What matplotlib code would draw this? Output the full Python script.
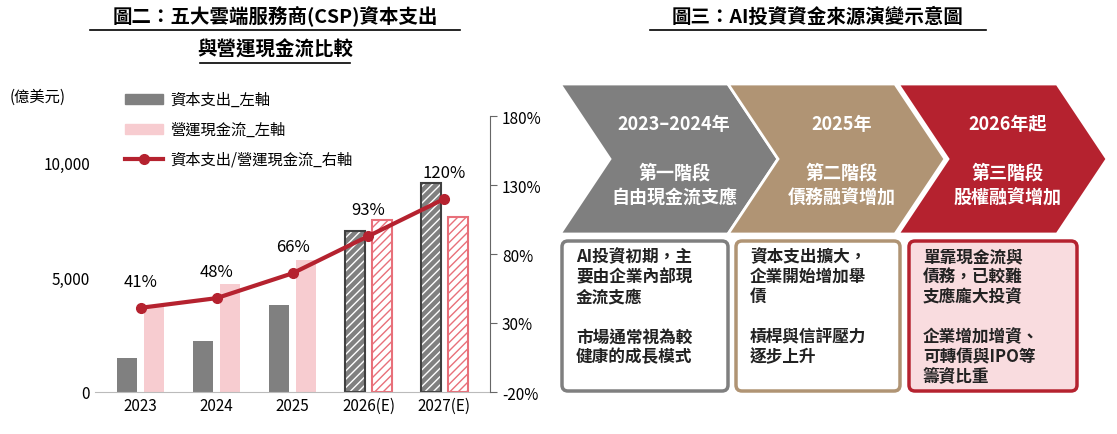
import matplotlib
matplotlib.use("Agg")
import matplotlib.pyplot as plt
from matplotlib.patches import Polygon, FancyBboxPatch
import numpy as np

plt.rcParams['font.family'] = ['Noto Sans CJK TC', 'DejaVu Sans']

years = ['2023', '2024', '2025', '2026(E)', '2027(E)']
capex = [1480, 2200, 3780, 7000, 9100]
ocf = [3800, 4700, 5740, 7480, 7600]
ratio = [41, 48, 66, 93, 120]
forecast = [False, False, False, True, True]

W, H = 1117, 435
fig = plt.figure(figsize=(W/100, H/100), dpi=100)

# ---- left chart
ax = fig.add_axes([95/W, 1-393/H, (490-95)/W, (393-117)/H])
x = np.arange(len(years))
bw = 0.26
for i in range(len(years)):
    if forecast[i]:
        ax.bar(x[i]-0.18, capex[i], bw, color='#808080', edgecolor='white', hatch='////', lw=0)
        ax.bar(x[i]-0.18, capex[i], bw, fill=False, edgecolor='#404040', lw=1.5)
        ax.bar(x[i]+0.18, ocf[i], bw, color='white', edgecolor='#e8707a', hatch='////', lw=1.5)
    else:
        ax.bar(x[i]-0.18, capex[i], bw, color='#808080')
        ax.bar(x[i]+0.18, ocf[i], bw, color='#f7ccd0')
ax.set_ylim(0, 12000)
ax.set_yticks([0, 5000, 10000])
ax.set_yticklabels(['0', '5,000', '10,000'], fontsize=11)
ax.set_xticks(x)
ax.set_xticklabels(years, fontsize=11)
ax.set_xlim(-0.6, 4.6)
for s in ['top', 'right', 'left']:
    ax.spines[s].set_visible(False)
ax.spines['bottom'].set_color('#bbbbbb')
ax.tick_params(length=0)
ax2 = ax.twinx()
ax2.plot(x, ratio, color='#b5222f', lw=3, marker='o', ms=7)
ax2.set_ylim(-20, 180)
ax2.set_yticks([-20, 30, 80, 130, 180])
ax2.set_yticklabels(['-20%', '30%', '80%', '130%', '180%'], fontsize=11)
for s in ['top', 'left', 'bottom']:
    ax2.spines[s].set_visible(False)
ax2.spines['right'].set_color('#666666')
ax2.tick_params(axis='y', length=5, color='#666666')
for i, r in enumerate(ratio):
    ax2.annotate(f'{r}%', (x[i], r), xytext=(0, 16), textcoords='offset points', ha='center', fontsize=12)

ov = fig.add_axes([0, 0, 1, 1], facecolor='none')
ov.set_xlim(0, W); ov.set_ylim(H, 0); ov.axis('off')
ov.text(10, 97, '(億美元)', fontsize=11, va='center')
ov.add_patch(plt.Rectangle((125, 95), 38, 10, color='#808080'))
ov.text(170, 100, '資本支出_左軸', fontsize=11, va='center')
ov.add_patch(plt.Rectangle((125, 125), 38, 10, color='#f7ccd0'))
ov.text(170, 130, '營運現金流_左軸', fontsize=11, va='center')
ov.plot([125, 163], [160, 160], color='#b5222f', lw=3)
ov.plot([144], [160], 'o', color='#b5222f', ms=7)
ov.text(170, 160, '資本支出/營運現金流_右軸', fontsize=11, va='center')

ov.text(275, 17, '圖二：五大雲端服務商(CSP)資本支出', fontsize=14, weight='bold', ha='center', va='center')
ov.plot([90, 460], [31, 31], color='black', lw=1.2)
ov.text(275, 50, '與營運現金流比較', fontsize=14, weight='bold', ha='center', va='center')
ov.plot([200, 350], [64, 64], color='black', lw=1.2)
ov.text(818, 17, '圖三：AI投資資金來源演變示意圖', fontsize=14, weight='bold', ha='center', va='center')
ov.plot([650, 986], [31, 31], color='black', lw=1.2)

chev = [(560, 778, '#7f7f7f', '2023–2024年', '第一階段\n自由現金流支應'),
        (728, 945, '#b09474', '2025年', '第二階段\n債務融資增加'),
        (898, 1107, '#b5222f', '2026年起', '第三階段\n股權融資增加')]
top, bot, tip = 85, 235, 50
for k, (x0, x1, c, t1, t2) in enumerate(chev):
    pts = [(x0, top), (x1-tip, top), (x1, (top+bot)/2), (x1-tip, bot), (x0, bot),
           (x0+tip, (top+bot)/2)]
    ov.add_patch(Polygon(pts, closed=True, color=c, ec='white', lw=2))
    cx = (x0 + x1) / 2 + 5
    ov.text(cx, 125, t1, color='white', fontsize=13, weight='bold', ha='center', va='center')
    ov.text(cx, 185, t2, color='white', fontsize=13, weight='bold', ha='center', va='center', linespacing=1.3)

boxes = [(562, 728, '#7f7f7f', 'white', 'AI投資初期，主\n要由企業內部現\n金流支應\n\n市場通常視為較\n健康的成長模式'),
         (736, 900, '#b09474', 'white', '資本支出擴大，\n企業開始增加舉\n債\n\n槓桿與信評壓力\n逐步上升'),
         (909, 1077, '#b5222f', '#f9dcdf', '單靠現金流與\n債務，已較難\n支應龐大投資\n\n企業增加增資、\n可轉債與IPO等\n籌資比重')]
for x0, x1, ec, fc, txt in boxes:
    ov.add_patch(FancyBboxPatch((x0, 242), x1-x0, 150, boxstyle='round,pad=0,rounding_size=6',
                                ec=ec, fc=fc, lw=2.5))
    ov.text(x0+14, 248, txt, fontsize=12, weight='bold', va='top', ha='left', linespacing=1.15, color='#222222')

fig.savefig('out.png', dpi=100)
